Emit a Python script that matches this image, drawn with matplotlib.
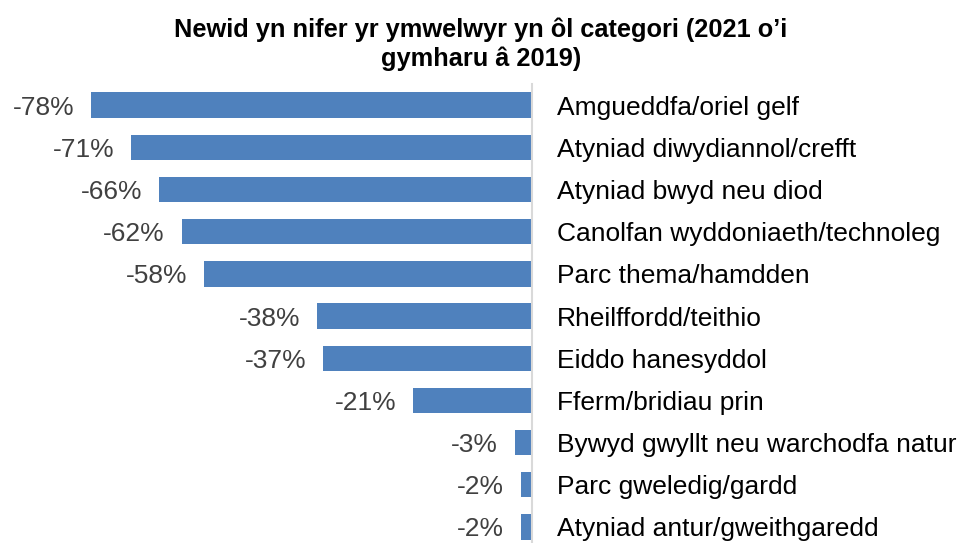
import matplotlib
matplotlib.use('Agg')
import matplotlib.pyplot as plt

plt.rcParams['font.family'] = ['Liberation Sans', 'DejaVu Sans']

categories = ['Amgueddfa/oriel gelf', 'Atyniad diwydiannol/crefft', 'Atyniad bwyd neu diod',
              'Canolfan wyddoniaeth/technoleg', 'Parc thema/hamdden', 'Rheilffordd/teithio',
              'Eiddo hanesyddol', 'Fferm/bridiau prin', 'Bywyd gwyllt neu warchodfa natur',
              'Parc gweledig/gardd', 'Atyniad antur/gweithgaredd']
change = [-78, -71, -66, -62, -58, -38, -37, -21, -3, -2, -2]

W, H = 961, 543
fig = plt.figure(figsize=(W / 100, H / 100), dpi=100)
# axes: zero line at x=532 px, top at 84 px, bottom at image edge
ax = fig.add_axes([0, 0, 532 / W, (H - 84) / H])

y = list(range(len(categories)))
ax.barh(y, change, height=0.6, color='#4F81BD')
ax.set_xlim(-94.2, 0)
ax.set_ylim(10.38, -0.5)

for i, v in enumerate(change):
    ax.annotate('%d%%' % v, (v, i), xytext=(-17, 0), textcoords='offset pixels',
                ha='right', va='center_baseline', fontsize=19, color='#404040')

ax.yaxis.tick_right()
ax.set_yticks(y)
ax.set_yticklabels(categories, fontsize=19, color='black', va='center_baseline')
ax.tick_params(axis='y', length=0, pad=18)
ax.set_xticks([])
for s in ['top', 'left', 'bottom']:
    ax.spines[s].set_visible(False)
ax.spines['right'].set_color('#d9d9d9')
ax.spines['right'].set_linewidth(1.5)

fig.text(481 / W, 1 - 44 / H, "Newid yn nifer yr ymwelwyr yn ôl categori (2021 o’i\ngymharu â 2019)",
         ha='center', va='center', fontsize=18.3, fontweight='bold', linespacing=1.25)

fig.savefig('out.png', dpi=100)
